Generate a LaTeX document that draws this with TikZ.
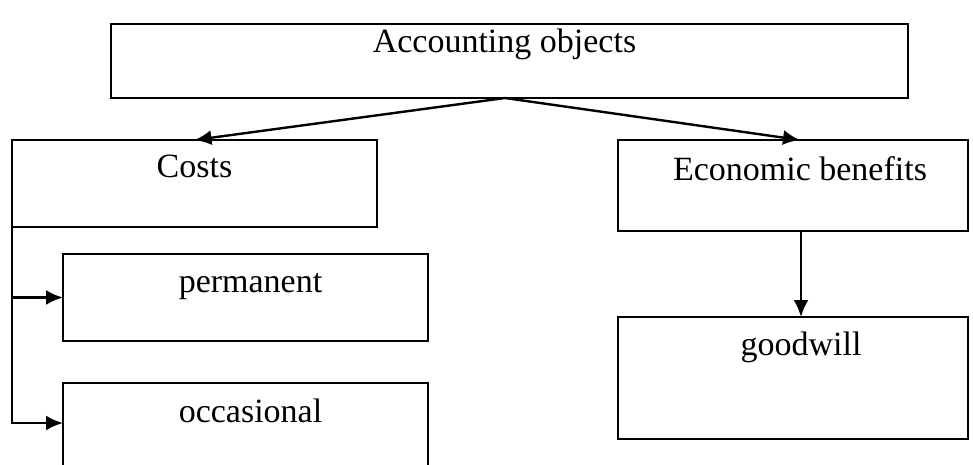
\documentclass[tikz,border=0pt]{standalone}
\usepackage{fontspec}
\setmainfont{Liberation Serif}
\usetikzlibrary{arrows.meta,calc}

\tikzset{
  objbox/.style={draw,line width=1.8pt,inner sep=0pt,outer sep=0pt,anchor=north west},
  ttl/.style={anchor=base},
  arr/.style={line width=2.4pt,-{Latex[length=17pt,width=15pt]}}
}

\begin{document}
\begin{tikzpicture}[x=1pt,y=-1pt,font=\fontsize{34}{40}\selectfont]
  \useasboundingbox (0,0) rectangle (973,465);
  % top level
  \node[objbox,minimum width=797pt,minimum height=74pt,
        label={[ttl,xshift=-5pt,yshift=-29pt]north:Accounting objects}] (acc) at (111,24) {};
  \coordinate (fork) at (505,98);
  % second level
  \node[objbox,minimum width=365pt,minimum height=87pt,
        label={[ttl,yshift=-38pt]north:Costs}] (costs) at (12,140) {};
  \node[objbox,minimum width=350pt,minimum height=91pt,
        label={[ttl,xshift=7pt,yshift=-40pt]north:Economic benefits}] (econ) at (618,140) {};
  % kinds of costs
  \node[objbox,minimum width=365pt,minimum height=87pt,
        label={[ttl,xshift=5pt,yshift=-38pt]north:permanent}] (perm) at (63,254) {};
  \node[inner sep=0pt,outer sep=0pt,anchor=north west,minimum width=365pt,minimum height=82pt,
        label={[ttl,xshift=5pt,yshift=-39pt]north:occasional}] (occ) at (63,383) {};
  \draw[line width=1.8pt] (occ.south west) |- (occ.north east) -- (occ.south east);
  % benefits
  \node[objbox,minimum width=350pt,minimum height=122pt,
        label={[ttl,xshift=8pt,yshift=-38pt]north:goodwill}] (gw) at (618,317) {};

  \draw[arr] (fork) -- (costs.north);
  \draw[arr] (fork) -- ([xshift=7pt]econ.north);
  \draw[arr] ([xshift=8pt]econ.south) -- ([xshift=8pt]gw.north);
  \draw[line width=1.8pt] (costs.south west) -- ([yshift=-40pt]costs.south west |- occ.north);
  \draw[arr] (costs.south west) |- (perm.west);
  \draw[arr] (costs.south west) |- ([yshift=-40pt]occ.north west);
\end{tikzpicture}
\end{document}
